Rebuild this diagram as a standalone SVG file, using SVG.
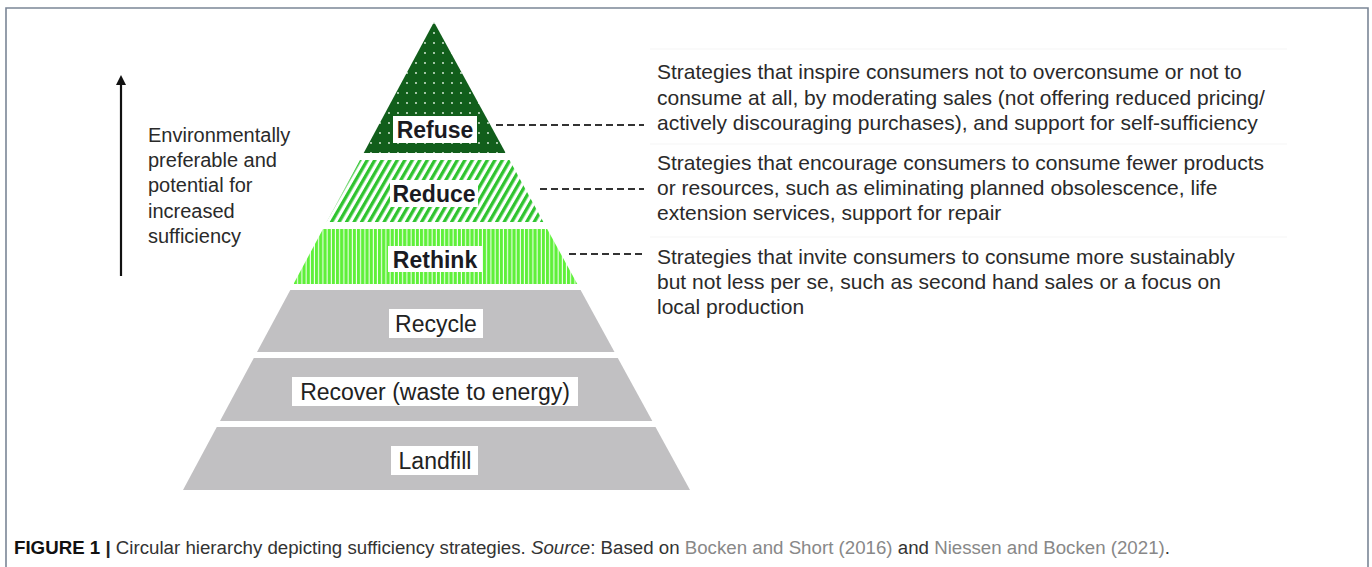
<svg xmlns="http://www.w3.org/2000/svg" width="1372" height="567" viewBox="0 0 1372 567">
<defs>
<style>
.lbl{font-family:"Liberation Sans",Arial,sans-serif;font-size:23px;fill:#222;text-anchor:middle}
.b{font-weight:bold;fill:#1a1a22}
.desc{font-family:"Liberation Sans",Arial,sans-serif;font-size:20px;fill:#2a2a2a}
.rdesc{font-size:21px}
.dash{stroke:#333;stroke-width:2;stroke-dasharray:7 4;fill:none}
.box{fill:#fff}
.gray{fill:#c1c0c2}
.faint{stroke:#f5f5f5;stroke-width:1}
.cap{font-family:"Liberation Sans",Arial,sans-serif;font-size:18px;fill:#333}
</style>
<pattern id="dots" width="9" height="10" patternUnits="userSpaceOnUse">
<rect width="9" height="10" fill="#115e1b"/>
<circle cx="2" cy="3" r="0.9" fill="#e8f5e8"/>
</pattern>
<pattern id="diag" width="6.5" height="6.5" patternUnits="userSpaceOnUse" patternTransform="rotate(30)">
<rect width="6.5" height="6.5" fill="#fff"/>
<rect width="3.3" height="6.5" fill="#2fc42f"/>
</pattern>
<pattern id="vert" width="4.2" height="10" patternUnits="userSpaceOnUse">
<rect width="4.2" height="10" fill="#ffffff"/>
<rect width="3.2" height="10" fill="#5ff03a"/>
</pattern>
<marker id="ah" viewBox="0 0 10 10" refX="5" refY="5" markerWidth="10" markerHeight="10" markerUnits="userSpaceOnUse" orient="auto">
<path d="M0,0 L10,5 L0,10 z" fill="#111"/>
</marker>
</defs>
<rect x="0" y="0" width="1372" height="567" fill="#fff"/>
<path d="M6,567 V8 H1368 V567" fill="none" stroke="#7b8696" stroke-width="1.6"/>

<g id="faint-lines">
<line class="faint" x1="650" y1="49" x2="1287" y2="49"/>
<line class="faint" x1="650" y1="144" x2="1287" y2="144"/>
<line class="faint" x1="650" y1="237" x2="1287" y2="237"/>
</g>

<g id="axis">
<line x1="121" y1="276" x2="121" y2="80" stroke="#111" stroke-width="2.2" marker-end="url(#ah)"/>
<text class="desc" x="148" y="142">Environmentally</text>
<text class="desc" x="148" y="167">preferable and</text>
<text class="desc" x="148" y="192">potential for</text>
<text class="desc" x="148" y="218">increased</text>
<text class="desc" x="148" y="243">sufficiency</text>
</g>

<g id="refuse">
<polygon points="434,22 505.7,153 363.7,153" fill="url(#dots)"/>
<rect class="box" x="393" y="116" width="84" height="27"/>
<text class="lbl b" x="435" y="137.5">Refuse</text>
</g>
<g id="reduce">
<polygon points="360,160 509.5,160 543.4,222 326.7,222" fill="url(#diag)"/>
<rect class="box" x="390" y="180" width="88" height="27"/>
<text class="lbl b" x="434" y="201.5">Reduce</text>
</g>
<g id="rethink">
<polygon points="323,229 547.2,229 577.3,284 293.5,284" fill="url(#vert)"/>
<rect class="box" x="388" y="246" width="94" height="26"/>
<text class="lbl b" x="435" y="267.5">Rethink</text>
</g>
<g id="recycle">
<polygon class="gray" points="290.3,290 580.6,290 614.5,352 257,352"/>
<rect class="box" x="389" y="309" width="94" height="29"/>
<text class="lbl" x="436" y="331.5">Recycle</text>
</g>
<g id="recover">
<polygon class="gray" points="253.8,358 617.8,358 652.3,421 220,421"/>
<rect class="box" x="292" y="377" width="286" height="29"/>
<text class="lbl" x="435" y="399.5">Recover (waste to energy)</text>
</g>
<g id="landfill">
<polygon class="gray" points="216.8,427 655.5,427 690,490 183,490"/>
<rect class="box" x="391" y="446" width="87" height="29"/>
<text class="lbl" x="435" y="468.5">Landfill</text>
</g>

<g id="connectors">
<line class="dash" x1="496" y1="125" x2="644" y2="125"/>
<line class="dash" x1="540" y1="189" x2="644" y2="189"/>
<line class="dash" x1="569" y1="254" x2="644" y2="254"/>
</g>

<g id="desc-refuse">
<text class="desc rdesc" x="657" y="79">Strategies that inspire consumers not to overconsume or not to</text>
<text class="desc rdesc" x="657" y="105">consume at all, by moderating sales (not offering reduced pricing/</text>
<text class="desc rdesc" x="657" y="130">actively discouraging purchases), and support for self-sufficiency</text>
</g>
<g id="desc-reduce">
<text class="desc rdesc" x="657" y="170">Strategies that encourage consumers to consume fewer products</text>
<text class="desc rdesc" x="657" y="195">or resources, such as eliminating  planned obsolescence, life</text>
<text class="desc rdesc" x="657" y="220">extension services, support for repair</text>
</g>
<g id="desc-rethink">
<text class="desc rdesc" x="657" y="264">Strategies that invite consumers to consume more sustainably</text>
<text class="desc rdesc" x="657" y="289">but not less per se, such as second hand sales or a focus on</text>
<text class="desc rdesc" x="657" y="314">local production</text>
</g>

<text class="cap" x="14" y="554" textLength="1156" lengthAdjust="spacingAndGlyphs"><tspan font-weight="bold" fill="#111">FIGURE 1</tspan><tspan fill="#222" font-weight="bold"> | </tspan>Circular hierarchy depicting sufficiency strategies. <tspan font-style="italic">Source</tspan>: Based on <tspan fill="#888">Bocken and Short (2016)</tspan> and <tspan fill="#888">Niessen and Bocken (2021)</tspan>.</text>
</svg>
